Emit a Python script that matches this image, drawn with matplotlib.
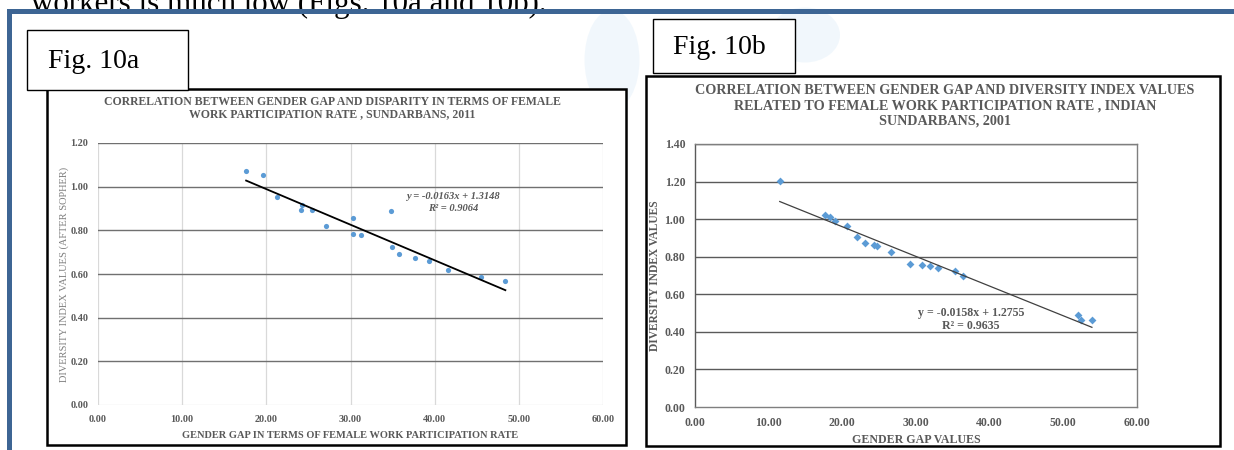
import matplotlib
matplotlib.use('Agg')
import matplotlib.pyplot as plt
from matplotlib.patches import Rectangle, Ellipse

plt.rcParams['font.family'] = ['Liberation Serif', 'DejaVu Serif']

W, H = 1234, 450

# Fig. 10a : gender gap vs disparity (2011)
gap_2011 = [17.6, 19.6, 21.3, 24.2, 24.1, 25.4, 27.1, 30.35, 30.25, 31.3,
            34.8, 34.9, 35.8, 37.7, 39.3, 41.6, 45.5, 48.4]
div_2011 = [1.071, 1.053, 0.952, 0.917, 0.892, 0.894, 0.818, 0.855, 0.783, 0.777,
            0.888, 0.723, 0.691, 0.671, 0.661, 0.618, 0.586, 0.567]
slope_2011, icpt_2011, r2_2011 = -0.0163, 1.3148, 0.9064

# Fig. 10b : gender gap vs diversity index (2001)
gap_2001 = [11.5, 17.6, 18.3, 19.0, 20.6, 22.0, 23.06, 24.35, 24.76, 26.66,
            29.2, 30.87, 31.84, 32.97, 35.23, 36.36, 51.98, 52.44, 53.88]
div_2001 = [1.203, 1.023, 1.012, 0.991, 0.963, 0.904, 0.874, 0.863, 0.859, 0.826,
            0.762, 0.758, 0.749, 0.738, 0.726, 0.698, 0.491, 0.464, 0.464]
slope_2001, icpt_2001, r2_2001 = -0.0158, 1.2755, 0.9635

x_ticks = [0, 10, 20, 30, 40, 50, 60]
y_ticks_a = [0, 0.2, 0.4, 0.6, 0.8, 1.0, 1.2]
y_ticks_b = [0, 0.2, 0.4, 0.6, 0.8, 1.0, 1.2, 1.4]

GREY = '#595959'
DOT = '#5b9bd5'


def fx(x):
    return x / W


def fy(y):
    return 1 - y / H


def box(fig, x0, y0, x1, y1, lw=1.0, z=1):
    fig.patches.append(Rectangle((fx(x0), fy(y1)), fx(x1) - fx(x0), fy(y0) - fy(y1),
                                 transform=fig.transFigure, facecolor='white',
                                 edgecolor='black', lw=lw, zorder=z))


fig = plt.figure(figsize=(W / 100, H / 100), dpi=100)

# faint page watermark behind the charts
for cx, cy, w, h in [(612, 60, 55, 100), (805, 35, 70, 55)]:
    fig.patches.append(Ellipse((fx(cx), fy(cy)), w / W, h / H, transform=fig.transFigure,
                               facecolor='#d8eaf8', edgecolor='none', alpha=0.35, zorder=0))

# page text running under the header bar
fig.text(fx(31), fy(12), 'workers is much low (Figs. 10a and 10b).', fontsize=22.3,
         color='black', va='baseline', ha='left', zorder=0)
fig.patches.append(Rectangle((fx(7), fy(14)), 1, fy(9) - fy(14), transform=fig.transFigure,
                             facecolor='#3d6594', edgecolor='none', zorder=2))
fig.patches.append(Rectangle((fx(7), 0), fx(12) - fx(7), fy(9), transform=fig.transFigure,
                             facecolor='#3d6594', edgecolor='none', zorder=2))

# chart frames and figure captions
box(fig, 47, 89, 626, 445, lw=1.8)
box(fig, 646, 76, 1220, 446, lw=1.8)
box(fig, 27, 30, 188, 90, lw=1.0, z=3)
box(fig, 653, 19, 795, 73, lw=1.0, z=3)
fig.text(fx(48), fy(68), 'Fig. 10a', fontsize=20, va='baseline', ha='left', zorder=4)
fig.text(fx(673), fy(54), 'Fig. 10b', fontsize=20, va='baseline', ha='left', zorder=4)

# ---- Fig. 10a ----
ax1 = fig.add_axes([fx(98), fy(405), fx(603) - fx(98), fy(143) - fy(405)])
ax1.set_zorder(5)
ax1.patch.set_alpha(0)
ax1.set_xlim(0, 60)
ax1.set_ylim(0, 1.2)
for v in x_ticks:
    ax1.axvline(v, color='#d9d9d9', lw=0.9, zorder=1)
for v in y_ticks_a[1:]:
    ax1.axhline(v, color='#707070', lw=1.0, zorder=1)
ax1.axhline(0, color='#d9d9d9', lw=0.9, zorder=1)
for s in ax1.spines.values():
    s.set_visible(False)
ax1.scatter(gap_2011, div_2011, s=14, color=DOT, zorder=3, linewidths=0)
xa = [min(gap_2011), max(gap_2011)]
ax1.plot(xa, [slope_2011 * v + icpt_2011 for v in xa], color='black', lw=1.3, zorder=4)
ax1.text(42.2, 0.955, f'y = {slope_2011:.4f}x + {icpt_2011:.4f}', ha='center', va='center',
         fontsize=7.6, style='italic', weight='bold', color=GREY)
ax1.text(42.2, 0.898, f'R² = {r2_2011:.4f}', ha='center', va='center',
         fontsize=7.6, style='italic', weight='bold', color=GREY)
ax1.set_xticks(x_ticks)
ax1.set_xticklabels([f'{v:.2f}' for v in x_ticks])
ax1.set_yticks(y_ticks_a)
ax1.set_yticklabels([f'{v:.2f}' for v in y_ticks_a])
ax1.tick_params(length=0, labelsize=7.3, colors=GREY, pad=7)
for t in ax1.get_xticklabels() + ax1.get_yticklabels():
    t.set_fontweight('bold')
ax1.set_xlabel('GENDER GAP IN TERMS OF FEMALE WORK PARTICIPATION RATE', fontsize=7.5,
               weight='bold', color=GREY, labelpad=5)
ax1.set_ylabel('DIVERSITY INDEX VALUES (AFTER SOPHER)', fontsize=7.5, color='#7f7f7f',
               va='center')
ax1.yaxis.set_label_coords(-0.067, 0.5)
fig.text(fx(332), fy(108), 'CORRELATION BETWEEN GENDER GAP AND DISPARITY IN TERMS OF FEMALE\n'
         'WORK PARTICIPATION RATE , SUNDARBANS, 2011', ha='center', va='center',
         fontsize=8.5, weight='bold', color=GREY, linespacing=1.1, zorder=6)

# ---- Fig. 10b ----
ax2 = fig.add_axes([fx(695), fy(407), fx(1137) - fx(695), fy(144) - fy(407)])
ax2.set_zorder(5)
ax2.patch.set_alpha(0)
ax2.set_xlim(0, 60)
ax2.set_ylim(0, 1.4)
for v in y_ticks_b[1:]:
    ax2.axhline(v, color='#5a5a5a', lw=1.0, zorder=1)
for k, s in ax2.spines.items():
    s.set_color('#7f7f7f')
    s.set_linewidth(1.0)
ax2.spines['left'].set_color('#5a5a5a')
ax2.scatter(gap_2001, div_2001, s=16, marker='D', color=DOT, zorder=3, linewidths=0)
xb = [min(gap_2001), max(gap_2001)]
ax2.plot(xb, [slope_2001 * v + icpt_2001 for v in xb], color='#404040', lw=0.9, zorder=4)
ax2.text(37.5, 0.50, f'y = {slope_2001:.4f}x + {icpt_2001:.4f}', ha='center', va='center',
         fontsize=8.6, weight='bold', color=GREY)
ax2.text(37.5, 0.43, f'R² = {r2_2001:.4f}', ha='center', va='center',
         fontsize=8.6, weight='bold', color=GREY)
ax2.set_xticks(x_ticks)
ax2.set_xticklabels([f'{v:.2f}' for v in x_ticks])
ax2.set_yticks(y_ticks_b)
ax2.set_yticklabels([f'{v:.2f}' for v in y_ticks_b])
ax2.tick_params(length=0, labelsize=8.5, colors=GREY, pad=7)
for t in ax2.get_xticklabels() + ax2.get_yticklabels():
    t.set_fontweight('bold')
ax2.set_xlabel('GENDER GAP VALUES', fontsize=8.6, weight='bold', color=GREY, labelpad=4)
ax2.set_ylabel('DIVERSITY INDEX VALUES', fontsize=8.3, weight='bold', color=GREY,
               va='center')
ax2.yaxis.set_label_coords(-0.09, 0.5)
fig.text(fx(945), fy(106), 'CORRELATION BETWEEN GENDER GAP AND DIVERSITY INDEX VALUES\n'
         'RELATED TO FEMALE WORK PARTICIPATION RATE , INDIAN\nSUNDARBANS, 2001',
         ha='center', va='center', fontsize=10.2, weight='bold', color=GREY, linespacing=1.2,
         zorder=6)

fig.savefig('out.png', dpi=100)
